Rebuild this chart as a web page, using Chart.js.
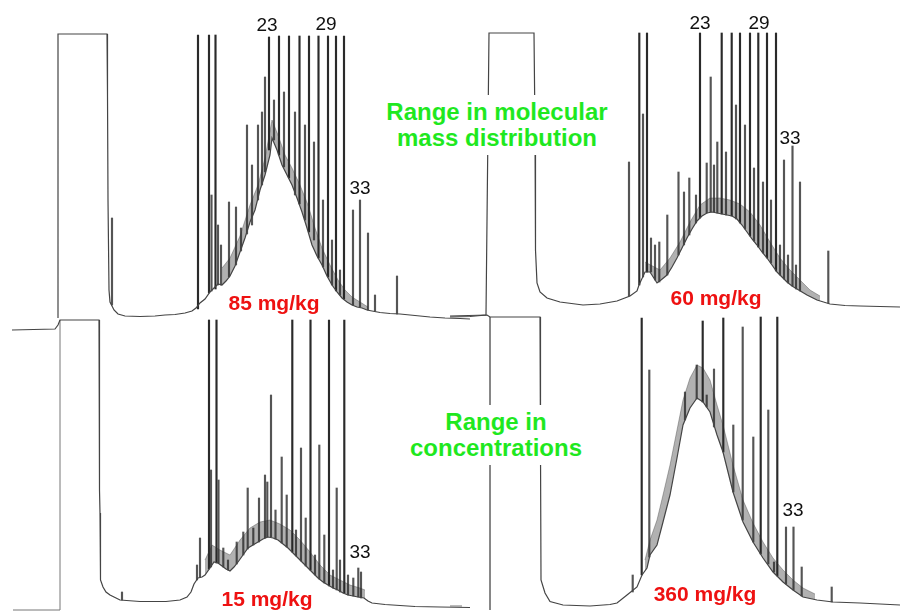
<!DOCTYPE html>
<html>
<head>
<meta charset="utf-8">
<script src="https://cdn.jsdelivr.net/npm/chart.js@4.4.1/dist/chart.umd.min.js"></script>
<style>
  body { margin: 0; background: #fff; }
  #page { position: relative; width: 900px; height: 612px; overflow: hidden; background: #fff; }
  .panel { position: absolute; }
  .lbl { position: absolute; transform: translate(-50%, -50%); white-space: nowrap;
         font-family: "Liberation Sans", Arial, sans-serif; z-index: 5; }
  .num { font-size: 19px; color: #111; }
  .conc { font-size: 21px; font-weight: bold; color: #ee1111; }
  .note { font-size: 24px; font-weight: bold; color: #1fe81f; background: #fff;
          text-align: center; line-height: 26px; padding: 4px 6px; }
</style>
</head>
<body>
<div id="page">
  <div class="panel" style="left:0;top:20px"><canvas id="tl" width="470" height="315"></canvas></div>
  <div class="panel" style="left:450px;top:20px"><canvas id="tr" width="450" height="315"></canvas></div>
  <div class="panel" style="left:0;top:300px"><canvas id="bl" width="470" height="312"></canvas></div>
  <div class="panel" style="left:450px;top:300px"><canvas id="br" width="450" height="312"></canvas></div>

  <div class="lbl num" style="left:267px;top:25px">23</div>
  <div class="lbl num" style="left:326px;top:24px">29</div>
  <div class="lbl num" style="left:360px;top:188px">33</div>
  <div class="lbl num" style="left:700px;top:23px">23</div>
  <div class="lbl num" style="left:759px;top:23px">29</div>
  <div class="lbl num" style="left:790px;top:138px">33</div>
  <div class="lbl num" style="left:360px;top:552px">33</div>
  <div class="lbl num" style="left:793px;top:510px">33</div>

  <div class="lbl conc" style="left:274px;top:303px">85 mg/kg</div>
  <div class="lbl conc" style="left:716px;top:298px">60 mg/kg</div>
  <div class="lbl conc" style="left:267px;top:599px">15 mg/kg</div>
  <div class="lbl conc" style="left:705px;top:594px">360 mg/kg</div>

  <div class="lbl note" style="left:497px;top:125px">Range in molecular<br>mass distribution</div>
  <div class="lbl note" style="left:496px;top:435px">Range in<br>concentrations</div>
</div>
<script>
// retention time (min) vs detector response; peaks are [time, base, top]

// ---- 85 mg/kg ----
const tlTrace = [[5.8,17],[5.8,301],[10.7,301],[10.75,240],[10.8,135],[10.9,45],[11.0,33],[11.4,25],[11.8,21],
  [12.5,19],[14.0,18.5],[15.5,19],[16.5,20],[17.5,20.5],[18.5,22],[19.2,24],[19.6,27],[20.0,32],[20.5,36],
  [21.0,43],[21.4,47],[21.8,51],[22.2,50],[22.6,54],[23.0,59],[23.5,69],[24.0,83],[24.5,97],[25.0,113],
  [25.5,125],[26.0,145],[26.5,160],[27.0,180],[27.2,197],[27.7,185],[28.2,170],[28.7,160],[29.2,150],
  [29.7,137],[30.2,123],[30.7,107],[31.2,90],[31.7,79],[32.2,70],[32.7,59],[33.2,50],[33.7,43],[34.2,37],
  [34.7,33],[35.2,30],[35.7,28],[36.2,27],[36.7,25],[37.2,24],[38.0,22.5],[39.0,21.5],[40.0,21],[41.5,19.5],
  [43.0,18],[44.5,17],[46.0,16.5],[47.0,16]];
const tlBand = [[22.2,67],[23.0,77],[24.0,99],[25.0,130],[25.8,150],[26.5,177],[27.2,215],[27.8,200],
  [28.5,180],[29.2,167],[30.0,150],[30.8,130],[31.5,107],[32.2,87],[33.0,70],[33.8,55],[34.5,45],
  [35.2,38],[36.0,33],[36.8,28]];
const tlPeaks = [[11.2,30,117],[19.8,26,300],[20.9,42,300],[21.15,44,140],[21.55,46,300],[21.8,50,110],
  [22.1,50,90],[22.9,58,133],[23.6,70,128],[24.1,84,107],[24.7,101,210],[25.2,110,170],[25.8,135,210],
  [26.2,150,223],[26.5,163,258],[26.9,185,298],[27.4,195,235],[27.9,180,299],[28.4,168,243],[28.9,157,299],
  [29.5,140,223],[29.95,131,299],[30.5,115,210],[30.9,103,299],[31.4,95,193],[31.85,77,299],[32.3,68,135],
  [32.8,58,299],[33.2,50,95],[33.6,44,299],[34.0,40,65],[34.4,36,299],[35.3,30,125],[36.0,28,135],
  [36.8,25,102],[37.5,24,40],[39.7,21,59]];

// ---- 60 mg/kg ----
const trTrace = [[0,18],[2.0,18.5],[3.6,20],[3.9,302],[8.4,302],[8.5,205],[8.55,85],[8.7,52],[9.0,43],
  [9.7,37],[11.0,33],[13.3,30],[15.0,31],[16.7,34],[18.0,39],[18.7,44],[18.9,50],[19.5,63],[20.0,63],
  [20.7,52],[21.1,55],[21.7,60],[22.2,68],[22.7,77],[23.2,87],[23.7,97],[24.2,106],[24.7,114],[25.2,119],
  [25.7,122],[26.2,123],[26.7,122],[27.2,121],[27.7,120],[28.2,119],[28.7,116],[29.2,110],[29.7,103],
  [30.2,96],[30.7,90],[31.2,83],[31.7,77],[32.2,70],[32.7,63],[33.2,58],[33.7,53],[34.2,49],[34.7,46],
  [35.2,43],[35.7,40],[36.7,35],[38.0,31],[39.5,29.5],[41.0,29],[43.0,28.5],[45.0,28]];
const trBand = [[19.5,73],[21.0,65],[22.0,77],[23.0,93],[24.0,113],[25.0,130],[26.0,137],[27.0,137],
  [28.0,135],[29.0,131],[30.0,123],[31.0,110],[32.0,93],[33.0,77],[34.0,65],[35.0,55],[36.0,45],[37.0,39]];
const trPeaks = [[17.9,39,173],[18.93,50,302],[19.3,58,221],[19.7,63,302],[20.1,63,97],[20.5,55,90],
  [20.93,53,93],[21.73,60,120],[22.85,80,163],[23.4,90,143],[23.93,100,157],[24.6,112,140],[25.0,117,302],
  [25.67,122,172],[26.07,123,258],[26.4,123,170],[26.73,122,193],[27.17,121,302],[27.6,120,183],
  [28.17,119,302],[28.6,116,230],[29.0,112,302],[29.5,106,210],[30.0,99,302],[30.4,94,167],[30.83,88,302],
  [31.3,82,153],[31.7,77,302],[32.1,72,135],[32.6,64,302],[33.0,60,90],[33.4,56,175],[33.8,52,80],
  [34.25,49,189],[34.6,46,70],[35.0,44,153],[37.83,32,84]];

// ---- 15 mg/kg ----
const blTrace = [[1.2,282],[5.5,283],[5.8,287],[6.0,292],[9.9,292],[9.95,122],[10.0,99],[10.05,32],
  [10.3,25],[10.6,20],[11.0,17],[12.0,12],[14.0,10.5],[16.6,10.5],[18.0,12],[18.7,15],[19.1,20],[19.4,28],
  [19.8,34],[20.2,35],[20.5,37],[21.0,44],[21.4,50],[21.8,49],[22.2,46],[22.6,43],[23.0,41],[23.4,45],
  [23.8,50],[24.3,57],[24.8,64],[25.3,67],[25.8,70],[26.3,73],[26.8,75],[27.3,74],[27.8,72],[28.3,68],
  [28.8,64],[29.3,59],[29.8,54],[30.3,49],[30.8,44],[31.3,39],[31.8,34],[32.3,30],[32.8,27],[33.3,24],
  [33.8,22],[34.3,19],[34.8,17],[35.3,16],[35.8,15],[36.4,14],[36.8,11],[37.2,9],[38.5,7.5],[40.0,6.5],
  [41.5,5.5],[44.0,5],[47.0,4.5]];
const blBand = [[20.5,52],[21.2,67],[22.0,62],[23.0,57],[24.0,72],[25.0,84],[26.0,90],[27.0,92],[28.0,88],
  [29.0,82],[30.0,72],[31.0,60],[32.0,47],[33.0,37],[34.0,32],[35.0,27],[36.0,24],[36.5,22]];
const blPeaks = [[12.2,12,20],[19.7,32,47],[20.0,35,74],[20.9,43,292],[21.1,45,142],[21.65,49,292],
  [21.85,49,132],[22.33,45,64],[22.8,42,52],[23.67,48,70],[24.33,57,80],[24.77,63,124],[25.33,67,84],
  [25.9,70,114],[26.5,74,137],[26.73,75,130],[27.1,75,217],[27.55,73,102],[28.17,69,155],[28.67,65,117],
  [29.23,60,292],[29.6,56,82],[30.1,51,164],[30.57,46,94],[31.05,42,292],[31.5,37,57],[31.93,33,167],
  [32.43,29,77],[32.9,26,292],[33.3,24,42],[33.67,22,124],[34.0,20,52],[34.43,19,292],[34.8,17,37],
  [35.33,16,34],[35.83,15,44],[36.1,14,40]];
const blFrame = [[1.3,2],[6.0,2],[6.0,292]];

// ---- 360 mg/kg ----
const brTrace = [[0,296],[3.7,297],[4.0,295],[9.0,295],[9.05,162],[9.1,32],[9.5,19],[10.0,10.5],[11.3,7],
  [14.0,6],[16.0,7.5],[16.7,9],[17.7,17],[18.7,25],[19.2,37],[19.7,44],[20.0,57],[20.7,67],[21.3,90],
  [22.0,117],[22.7,154],[23.3,187],[24.0,204],[24.7,214],[25.3,210],[26.0,200],[26.7,177],[27.3,160],
  [28.3,120],[29.3,90],[30.3,70],[31.3,54],[32.3,40],[33.3,30],[34.3,22],[35.3,15],[36.7,12],[38.3,10],
  [41.0,9],[45.0,7]];
const brBand = [[19.5,52],[20.0,72],[20.7,92],[21.3,117],[22.0,147],[22.7,182],[23.3,212],[24.0,234],
  [24.7,247],[25.3,244],[26.0,232],[26.7,207],[27.3,187],[28.3,147],[29.3,112],[30.3,89],[31.3,70],
  [32.3,54],[33.3,42],[34.3,32],[35.3,24],[36.5,18]];
const brPeaks = [[18.27,20,37],[19.17,37,294],[19.93,55,242],[23.5,192,220],[24.67,213,247],[25.27,210,291],
  [25.67,205,217],[26.4,185,243],[27.33,160,294],[28.33,120,187],[29.27,92,285],[30.33,70,175],
  [31.07,58,295],[31.83,48,202],[32.4,40,50],[32.73,36,295],[33.6,28,85],[34.35,22,85],[35.17,16,45],
  [38.17,10,25]];
const brFrame = [[4.0,295],[4.0,2]];
const brFrame2 = [[0,6],[1.2,6]];

const pts = arr => arr.map(([x, y]) => ({ x, y }));

function panel(id, xMax, yMax, trace, band, peaks, frames) {
  const datasets = [
    { type: 'line', data: pts(trace), borderColor: '#444', borderWidth: 1.2 },
    // unresolved hump noise, shaded between its upper edge and the trace
    { type: 'line', data: pts(band), borderColor: 'rgba(50,50,50,0.45)', borderWidth: 0.8,
      backgroundColor: 'rgba(40,40,40,0.36)', fill: 0 },
    { type: 'bar', data: peaks.map(([x, lo, hi]) => ({ x, y: [lo, hi] })),
      // off-scale n-alkanes darker than the minor peaks
      backgroundColor: ctx => (ctx.raw && ctx.raw.y[1] >= yMax - 25 ? '#2a2a2a' : '#555'),
      borderWidth: 0, barThickness: 1.5, grouped: false }
  ];
  (frames || []).forEach(f => datasets.push(
    { type: 'line', data: pts(f), borderColor: '#777', borderWidth: 1 }));
  datasets.forEach(d => { d.pointRadius = 0; d.tension = 0; d.clip = false; if (d.fill === undefined) d.fill = false; });

  return new Chart(document.getElementById(id), {
    type: 'line',
    data: { datasets },
    options: {
      responsive: false,
      animation: false,
      layout: { padding: 0 },
      plugins: { legend: { display: false }, tooltip: { enabled: false } },
      scales: {
        // bars would otherwise pad the time axis
        x: { type: 'linear', min: 0, max: xMax, offset: false, display: false },
        y: { min: 0, max: yMax, display: false }
      }
    }
  });
}

panel('tl', 47, 315, tlTrace, tlBand, tlPeaks);
panel('tr', 45, 315, trTrace, trBand, trPeaks);
panel('bl', 47, 312, blTrace, blBand, blPeaks, [blFrame]);
panel('br', 45, 312, brTrace, brBand, brPeaks, [brFrame, brFrame2]);
</script>
</body>
</html>
